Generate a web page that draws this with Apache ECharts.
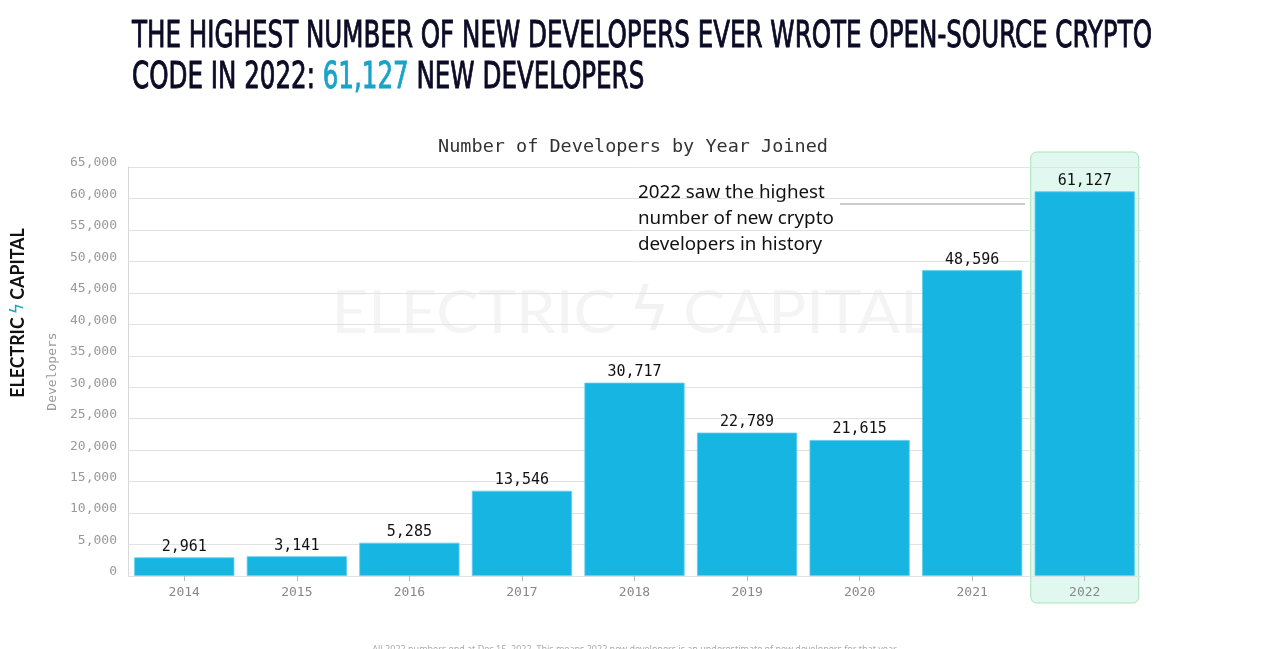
<!DOCTYPE html>
<html><head><meta charset="utf-8">
<script src="https://cdn.jsdelivr.net/npm/echarts@6/dist/echarts.min.js"></script>
<style>html,body{margin:0;padding:0;background:#fff}#c{width:1271px;height:649px}</style>
</head><body><div id="c"></div>
<script>
// ---- data ----
const years = ['2014','2015','2016','2017','2018','2019','2020','2021','2022'];
const developers = [2961, 3141, 5285, 13546, 30717, 22789, 21615, 48596, 61127];
const yMin = 0, yMax = 65000, yStep = 5000;
const highlightYear = '2022';
const titleLine1 = 'THE HIGHEST NUMBER OF NEW DEVELOPERS EVER WROTE OPEN-SOURCE CRYPTO';
const titleLine2Start = 'CODE IN 2022: ';
const titleLine2Number = '61,127';
const titleLine2End = ' NEW DEVELOPERS';
const chartTitle = 'Number of Developers by Year Joined';
const yAxisName = 'Developers';
const annotationLines = ['2022 saw the highest', 'number of new crypto', 'developers in history'];
const logoLeft = 'ELECTRIC', logoBolt = 'ϟ', logoRight = 'CAPITAL';
const footnote = 'All 2022 numbers end at Dec 15, 2022. This means 2022 new developers is an underestimate of new developers for that year.';

// ---- helpers ----
const mctx = document.createElement('canvas').getContext('2d');
function tw(str, font){ mctx.font = font; return mctx.measureText(str).width; }
const fmt = v => v.toLocaleString('en-US');
const MONO = '"DejaVu Sans Mono", "Liberation Mono", monospace';

const chart = echarts.init(document.getElementById('c'), null, {renderer:'canvas'});
chart.setOption({
  backgroundColor:'#ffffff',
  animation:false,
  title:{
    text: chartTitle, left: 628, top: 133, textAlign:'center',
    textStyle:{fontFamily: MONO, fontSize: 18.5, fontWeight:'normal', color:'#333'}
  },
  grid:{left:128, right:130, top:167, bottom:73, containLabel:false},
  xAxis:{
    type:'category', data: years,
    axisLine:{show:false},
    axisTick:{show:true, alignWithLabel:true, length:5, lineStyle:{color:'#bbb'}},
    axisLabel:{fontFamily: MONO, fontSize:13, color:'#888', margin:10}
  },
  yAxis:{
    type:'value', min:yMin, max:yMax, interval:yStep,
    name: yAxisName, nameLocation:'middle', nameGap:64,
    nameTextStyle:{fontFamily: MONO, fontSize:13, color:'#999'},
    axisLine:{show:true, lineStyle:{color:'#d8d8d8'}},
    axisTick:{show:false},
    splitLine:{lineStyle:{color:'#e2e2e2', width:1}},
    axisLabel:{fontFamily: MONO, fontSize:13, color:'#999', margin:11, verticalAlign:'bottom', lineHeight:8, formatter: v => fmt(v)}
  },
  series:[{
    type:'bar', data: developers, barCategoryGap:'11%',
    itemStyle:{color:'#17b6e2', borderColor:'#5fcdee', borderWidth:0.8},
    label:{show:true, position:'top', distance:3, fontFamily: MONO, fontSize:15, color:'#111', formatter: p => fmt(p.value)},
    z:2
  }]
});

// ---- decorations computed from axes ----
const cx = chart.convertToPixel({xAxisIndex:0}, highlightYear);
const yTop = chart.convertToPixel({yAxisIndex:0}, yMax);
const yBot = chart.convertToPixel({yAxisIndex:0}, yMin);

const TFAM = '"Liberation Sans Narrow", "DejaVu Sans Condensed", "Liberation Sans", sans-serif';
const titleFont = 'normal 38px ' + TFAM;
const tScale = 1020 / tw(titleLine1, titleFont);

const logoFont = 'bold 18px Lato, "Noto Sans", sans-serif';
const logoW = tw(logoLeft + logoRight, logoFont) + tw(logoBolt, '18px "DejaVu Sans"') + 6;
const logoScale = 169 / logoW;

const wmFont = 'normal 60px Lato, "Noto Sans", sans-serif';
const wmW = tw(logoLeft + logoRight, wmFont) + tw(logoBolt, '60px "DejaVu Sans"') + 24;
const wmScale = 600 / wmW;

const annFontSize = 17 * 187 / tw(annotationLines[0], '17px "Noto Sans", sans-serif');

chart.setOption({
  graphic:[
    {type:'rect', z:-1, shape:{x:cx-54, y:yTop-15, width:108, height:(yBot+27)-(yTop-15), r:6},
     style:{fill:'rgba(200,243,228,0.55)', stroke:'#a8e2b8', lineWidth:1}},
    {type:'text', z:-2, x:632, y:314, scaleX:wmScale,
     style:{text: logoLeft + '{b|' + logoBolt + '}' + logoRight, x:0, y:0, align:'center', verticalAlign:'middle',
       font: wmFont, fill:'#f4f4f4',
       rich:{b:{fontFamily:'DejaVu Sans', fontSize:60, fill:'#f2f2f2', padding:[0,12,0,12]}}}},
    {type:'text', x:132, y:37, scaleX:tScale,
     style:{text:titleLine1, x:0, y:0, align:'left', verticalAlign:'middle', font:titleFont, fill:'#0b0b26',
       stroke:'#0b0b26', lineWidth:0.9}},
    {type:'text', x:132, y:78, scaleX:tScale,
     style:{text: titleLine2Start + '{n|' + titleLine2Number + '}' + titleLine2End, x:0, y:0, align:'left', verticalAlign:'middle',
       font:titleFont, fill:'#0b0b26', stroke:'#0b0b26', lineWidth:0.9,
       rich:{n:{fill:'#1aa3c8', stroke:'#1aa3c8', lineWidth:0.9, fontSize:38, fontWeight:'normal', fontFamily:TFAM}}}},
    {type:'text', x:18, y:313, rotation:Math.PI/2, scaleX:logoScale,
     style:{text: logoLeft + '{b|' + logoBolt + '}' + logoRight, x:0, y:0, align:'center', verticalAlign:'middle',
       font: logoFont, fill:'#111',
       rich:{b:{fontFamily:'DejaVu Sans', fontSize:18, fill:'#1aa3c8', padding:[0,3,0,3]}}}},
    {type:'text', x:638, y:180,
     style:{text: annotationLines.join('\n'), x:0, y:0, align:'left', verticalAlign:'top',
       fontFamily:'"Noto Sans", sans-serif', fontSize:annFontSize, lineHeight:26, fill:'#111'}},
    {type:'line', shape:{x1:840, y1:204, x2:1025, y2:204}, style:{stroke:'#999', lineWidth:1}},
    {type:'text', x:635, y:645,
     style:{text: footnote, x:0, y:0, align:'center', verticalAlign:'top', fontFamily:'"Noto Sans", sans-serif', fontSize:9, fill:'#aaa'}}
  ]
});
</script></body></html>
